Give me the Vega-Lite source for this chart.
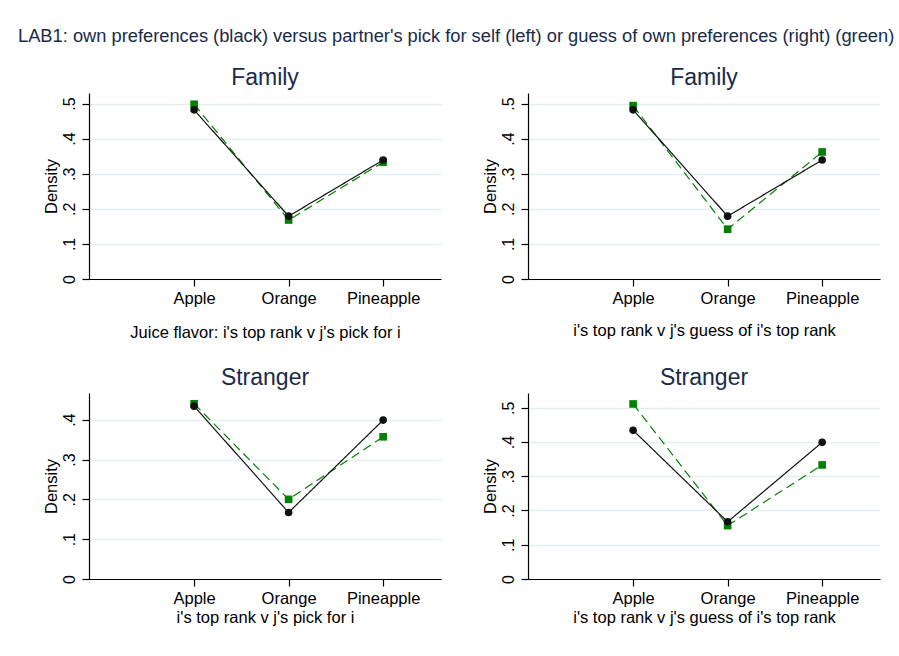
{
  "$schema": "https://vega.github.io/schema/vega-lite/v6.json",
  "background": "white",
  "padding": {"left": 18, "top": 26, "right": 5, "bottom": 5},
  "title": {"text": "LAB1: own preferences (black) versus partner's pick for self (left) or guess of own preferences (right) (green)", "anchor": "start", "fontSize": 18.3, "font": "Liberation Sans", "fontWeight": "normal", "color": "#1a2a48", "offset": 21, "dx": -25},
  "data": {"values": [
    {"panel": "FP", "series": "partner", "code": 1, "flavor": "Apple", "density": 0.498},
    {"panel": "FP", "series": "partner", "code": 2, "flavor": "Orange", "density": 0.168},
    {"panel": "FP", "series": "partner", "code": 3, "flavor": "Pineapple", "density": 0.333},
    {"panel": "FP", "series": "own", "code": 1, "flavor": "Apple", "density": 0.482},
    {"panel": "FP", "series": "own", "code": 2, "flavor": "Orange", "density": 0.179},
    {"panel": "FP", "series": "own", "code": 3, "flavor": "Pineapple", "density": 0.339},
    {"panel": "FG", "series": "partner", "code": 1, "flavor": "Apple", "density": 0.494},
    {"panel": "FG", "series": "partner", "code": 2, "flavor": "Orange", "density": 0.142},
    {"panel": "FG", "series": "partner", "code": 3, "flavor": "Pineapple", "density": 0.362},
    {"panel": "FG", "series": "own", "code": 1, "flavor": "Apple", "density": 0.482},
    {"panel": "FG", "series": "own", "code": 2, "flavor": "Orange", "density": 0.179},
    {"panel": "FG", "series": "own", "code": 3, "flavor": "Pineapple", "density": 0.339},
    {"panel": "SP", "series": "partner", "code": 1, "flavor": "Apple", "density": 0.44},
    {"panel": "SP", "series": "partner", "code": 2, "flavor": "Orange", "density": 0.2},
    {"panel": "SP", "series": "partner", "code": 3, "flavor": "Pineapple", "density": 0.357},
    {"panel": "SP", "series": "own", "code": 1, "flavor": "Apple", "density": 0.434},
    {"panel": "SP", "series": "own", "code": 2, "flavor": "Orange", "density": 0.167},
    {"panel": "SP", "series": "own", "code": 3, "flavor": "Pineapple", "density": 0.399},
    {"panel": "SG", "series": "partner", "code": 1, "flavor": "Apple", "density": 0.511},
    {"panel": "SG", "series": "partner", "code": 2, "flavor": "Orange", "density": 0.156},
    {"panel": "SG", "series": "partner", "code": 3, "flavor": "Pineapple", "density": 0.333},
    {"panel": "SG", "series": "own", "code": 1, "flavor": "Apple", "density": 0.434},
    {"panel": "SG", "series": "own", "code": 2, "flavor": "Orange", "density": 0.167},
    {"panel": "SG", "series": "own", "code": 3, "flavor": "Pineapple", "density": 0.399}
  ]},
  "spacing": 26,
  "vconcat": [
    {
      "spacing": 41,
      "hconcat": [
        {
          "width": 352, "height": 186,
          "title": "Family",
          "transform": [{"filter": "datum.panel == 'FP'"}],
          "encoding": {
            "x": {"field": "code", "type": "quantitative", "scale": {"domain": [-0.112, 3.612], "nice": false, "zero": false}, "axis": {"values": [1, 2, 3], "labelExpr": "['','Apple','Orange','Pineapple'][datum.value]", "title": "Juice flavor: i's top rank v j's pick for i", "titlePadding": 18}},
            "y": {"field": "density", "type": "quantitative", "scale": {"domain": [0, 0.53], "nice": false}, "axis": {"values": [0, 0.1, 0.2, 0.3, 0.4, 0.5], "labelExpr": "datum.value == 0 ? '0' : replace(format(datum.value, '.1f'), '0.', '.')", "title": "Density"}},
            "color": {"field": "series", "type": "nominal", "scale": {"domain": ["own", "partner"], "range": ["#111111", "#008000"]}, "legend": null}
          },
          "layer": [
            {"mark": {"type": "line", "strokeWidth": 1.2}, "encoding": {"strokeDash": {"field": "series", "type": "nominal", "scale": {"domain": ["own", "partner"], "range": [[1, 0], [9, 5]]}, "legend": null}}},
            {"mark": {"type": "point", "filled": true, "opacity": 1, "size": 58}, "encoding": {"shape": {"field": "series", "type": "nominal", "scale": {"domain": ["own", "partner"], "range": ["circle", "square"]}, "legend": null}}}
          ]
        },
        {
          "width": 352, "height": 186,
          "title": "Family",
          "transform": [{"filter": "datum.panel == 'FG'"}],
          "encoding": {
            "x": {"field": "code", "type": "quantitative", "scale": {"domain": [-0.112, 3.612], "nice": false, "zero": false}, "axis": {"values": [1, 2, 3], "labelExpr": "['','Apple','Orange','Pineapple'][datum.value]", "title": "i's top rank v j's guess of i's top rank", "titlePadding": 16}},
            "y": {"field": "density", "type": "quantitative", "scale": {"domain": [0, 0.53], "nice": false}, "axis": {"values": [0, 0.1, 0.2, 0.3, 0.4, 0.5], "labelExpr": "datum.value == 0 ? '0' : replace(format(datum.value, '.1f'), '0.', '.')", "title": "Density"}},
            "color": {"field": "series", "type": "nominal", "scale": {"domain": ["own", "partner"], "range": ["#111111", "#008000"]}, "legend": null}
          },
          "layer": [
            {"mark": {"type": "line", "strokeWidth": 1.2}, "encoding": {"strokeDash": {"field": "series", "type": "nominal", "scale": {"domain": ["own", "partner"], "range": [[1, 0], [9, 5]]}, "legend": null}}},
            {"mark": {"type": "point", "filled": true, "opacity": 1, "size": 58}, "encoding": {"shape": {"field": "series", "type": "nominal", "scale": {"domain": ["own", "partner"], "range": ["circle", "square"]}, "legend": null}}}
          ]
        }
      ]
    },
    {
      "spacing": 41,
      "hconcat": [
        {
          "width": 352, "height": 186,
          "title": "Stranger",
          "transform": [{"filter": "datum.panel == 'SP'"}],
          "encoding": {
            "x": {"field": "code", "type": "quantitative", "scale": {"domain": [-0.112, 3.612], "nice": false, "zero": false}, "axis": {"values": [1, 2, 3], "labelExpr": "['','Apple','Orange','Pineapple'][datum.value]", "title": "i's top rank v j's pick for i", "titlePadding": 3}},
            "y": {"field": "density", "type": "quantitative", "scale": {"domain": [0, 0.467], "nice": false}, "axis": {"values": [0, 0.1, 0.2, 0.3, 0.4], "labelExpr": "datum.value == 0 ? '0' : replace(format(datum.value, '.1f'), '0.', '.')", "title": "Density"}},
            "color": {"field": "series", "type": "nominal", "scale": {"domain": ["own", "partner"], "range": ["#111111", "#008000"]}, "legend": null}
          },
          "layer": [
            {"mark": {"type": "line", "strokeWidth": 1.2}, "encoding": {"strokeDash": {"field": "series", "type": "nominal", "scale": {"domain": ["own", "partner"], "range": [[1, 0], [9, 5]]}, "legend": null}}},
            {"mark": {"type": "point", "filled": true, "opacity": 1, "size": 58}, "encoding": {"shape": {"field": "series", "type": "nominal", "scale": {"domain": ["own", "partner"], "range": ["circle", "square"]}, "legend": null}}}
          ]
        },
        {
          "width": 352, "height": 186,
          "title": "Stranger",
          "transform": [{"filter": "datum.panel == 'SG'"}],
          "encoding": {
            "x": {"field": "code", "type": "quantitative", "scale": {"domain": [-0.112, 3.612], "nice": false, "zero": false}, "axis": {"values": [1, 2, 3], "labelExpr": "['','Apple','Orange','Pineapple'][datum.value]", "title": "i's top rank v j's guess of i's top rank", "titlePadding": 3}},
            "y": {"field": "density", "type": "quantitative", "scale": {"domain": [0, 0.543], "nice": false}, "axis": {"values": [0, 0.1, 0.2, 0.3, 0.4, 0.5], "labelExpr": "datum.value == 0 ? '0' : replace(format(datum.value, '.1f'), '0.', '.')", "title": "Density"}},
            "color": {"field": "series", "type": "nominal", "scale": {"domain": ["own", "partner"], "range": ["#111111", "#008000"]}, "legend": null}
          },
          "layer": [
            {"mark": {"type": "line", "strokeWidth": 1.2}, "encoding": {"strokeDash": {"field": "series", "type": "nominal", "scale": {"domain": ["own", "partner"], "range": [[1, 0], [9, 5]]}, "legend": null}}},
            {"mark": {"type": "point", "filled": true, "opacity": 1, "size": 58}, "encoding": {"shape": {"field": "series", "type": "nominal", "scale": {"domain": ["own", "partner"], "range": ["circle", "square"]}, "legend": null}}}
          ]
        }
      ]
    }
  ],
  "config": {
    "font": "Liberation Sans",
    "view": {"stroke": null},
    "axis": {"domainColor": "#000000", "tickColor": "#000000", "labelColor": "#000000", "titleColor": "#000000", "labelFontSize": 16.5, "titleFontSize": 16.5, "titleFontWeight": "normal", "labelFont": "Liberation Sans", "titleFont": "Liberation Sans", "tickSize": 7, "domainWidth": 1.2, "tickWidth": 1.2},
    "axisX": {"grid": false, "labelPadding": 4},
    "axisY": {"grid": true, "gridColor": "#e4eef0", "gridWidth": 1.5, "labelAngle": -90, "labelAlign": "center", "labelBaseline": "bottom", "labelPadding": 5, "titlePadding": 2, "labelFontSize": 16},
    "title": {"fontSize": 23, "fontWeight": "normal", "color": "#1a2a48", "offset": 3, "font": "Liberation Sans"}
  }
}
